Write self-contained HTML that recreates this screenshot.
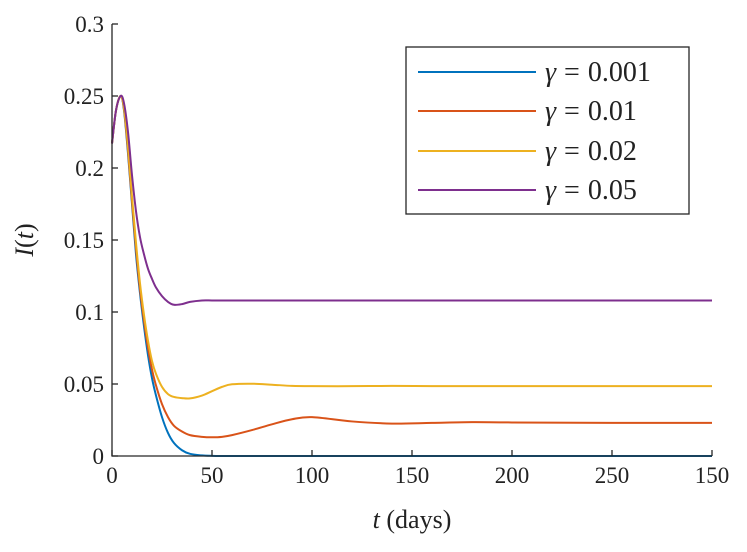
<!DOCTYPE html>
<html><head><meta charset="utf-8"><style>
body{margin:0;background:#fff;}
svg text{font-family:"Liberation Serif",serif;fill:#222;}
</style></head><body>
<svg id="chart" width="747" height="547" xmlns="http://www.w3.org/2000/svg">
<g id="plot"></g>
</svg>
<script>
const times = [0,2,4.3,6,8,10,12,14,16,18,20,22,25,28,31,35,39,45,50,55,60,70,80,90,100,120,140,160,180,200,250,300];
const blueVals = [0.217,0.24,0.25,0.24,0.21,0.175,0.14,0.113,0.09,0.07,0.054,0.042,0.027,0.016,0.009,0.004,0.0015,0.0004,0.0001,0,0,0,0,0,0,0,0,0,0,0,0,0];
const redVals = [0.217,0.24,0.25,0.241,0.212,0.177,0.144,0.116,0.094,0.075,0.06,0.049,0.036,0.027,0.021,0.017,0.0145,0.0133,0.013,0.0133,0.0145,0.018,0.022,0.0255,0.027,0.024,0.0225,0.023,0.0235,0.0233,0.023,0.023];
const yellowVals = [0.217,0.24,0.25,0.242,0.215,0.18,0.148,0.12,0.098,0.08,0.066,0.057,0.048,0.043,0.041,0.0402,0.04,0.042,0.045,0.048,0.0498,0.0502,0.0495,0.0487,0.0485,0.0485,0.0487,0.0485,0.0485,0.0485,0.0485,0.0485];
const purpleVals = [0.217,0.24,0.25,0.245,0.225,0.195,0.17,0.152,0.14,0.13,0.123,0.117,0.111,0.107,0.105,0.1055,0.107,0.108,0.108,0.108,0.108,0.108,0.108,0.108,0.108,0.108,0.108,0.108,0.108,0.108,0.108,0.108];
const xTicks = [0,50,100,150,200,250,300];
const xTickLabels = ["0","50","100","150","200","250","150"];
const yTicks = [0,0.05,0.1,0.15,0.2,0.25,0.3];
const yTickLabels = ["0","0.05","0.1","0.15","0.2","0.25","0.3"];
const seriesValues = ["0.001","0.01","0.02","0.05"];
const colors = ["#0072BD","#D95319","#EDB120","#7E2F8E"];

const X0=112,X1=712,Y0=456,Y1=24;
const xs = t => X0 + (t-0)/300*(X1-X0);
const ys = v => Y0 - v/0.3*(Y0-Y1);
const NS="http://www.w3.org/2000/svg";
const g=document.getElementById('plot');
function mk(tag,attrs){const e=document.createElementNS(NS,tag);for(const k in attrs)e.setAttribute(k,attrs[k]);g.appendChild(e);return e;}

const allVals=[blueVals,redVals,yellowVals,purpleVals];
function pathFor(vals){
  const p=times.map((t,i)=>[xs(t),ys(vals[i])]);
  let d=`M${p[0][0]},${p[0][1]}`;
  for(let i=0;i<p.length-1;i++){
    const p0=p[Math.max(0,i-1)],p1=p[i],p2=p[i+1],p3=p[Math.min(p.length-1,i+2)];
    const c1=[p1[0]+(p2[0]-p0[0])/6,p1[1]+(p2[1]-p0[1])/6];
    const c2=[p2[0]-(p3[0]-p1[0])/6,p2[1]-(p3[1]-p1[1])/6];
    d+=` C${c1[0]},${c1[1]} ${c2[0]},${c2[1]} ${p2[0]},${p2[1]}`;
  }
  return d;
}
[0,1,2,3].forEach(i=>{
  const e=mk('path',{d:pathFor(allVals[i]),fill:'none',stroke:colors[i],'stroke-width':2});
  
  
});

const ax=mk('path',{d:`M${X0},${Y1} L${X0},${Y0} L${X1},${Y0}`,fill:'none',stroke:'#262626','stroke-width':1.3});


xTicks.forEach((t,i)=>{
  const tk=mk('line',{x1:xs(t),x2:xs(t),y1:Y0,y2:Y0-6,stroke:'#262626','stroke-width':1.3});
  
  
  const tx=mk('text',{x:xs(t),y:Y0+27,'text-anchor':'middle','font-size':23});
  tx.textContent=xTickLabels[i];
  
  
});
yTicks.forEach((v,i)=>{
  const tk=mk('line',{x1:X0,x2:X0+6,y1:ys(v),y2:ys(v),stroke:'#262626','stroke-width':1.3});
  
  
  const tx=mk('text',{x:X0-8,y:ys(v)+8,'text-anchor':'end','font-size':23});
  tx.textContent=yTickLabels[i];
  
  
});
const xl=mk('text',{x:412,y:528,'text-anchor':'middle','font-size':26});
xl.innerHTML='<tspan font-style="italic">t</tspan> (days)';


const yl=mk('text',{x:0,y:0,'text-anchor':'middle','font-size':26,transform:'translate(33,240) rotate(-90)'});
yl.innerHTML='<tspan font-style="italic">I</tspan>(<tspan font-style="italic">t</tspan>)';



const lb=mk('rect',{x:406,y:47,width:283,height:167,fill:'#fff',stroke:'#262626','stroke-width':1.3});


const ly=[72,111,151,190];
seriesValues.forEach((n,i)=>{
  const l=mk('line',{x1:418,x2:536,y1:ly[i],y2:ly[i],stroke:colors[i],'stroke-width':2});
  
  
  const t=mk('text',{x:545,y:ly[i]+9,'font-size':28});
  t.innerHTML='<tspan font-style="italic">γ</tspan><tspan dx="8">=</tspan><tspan dx="8">'+n+'</tspan>';
  
  
});
</script>
</body></html>
